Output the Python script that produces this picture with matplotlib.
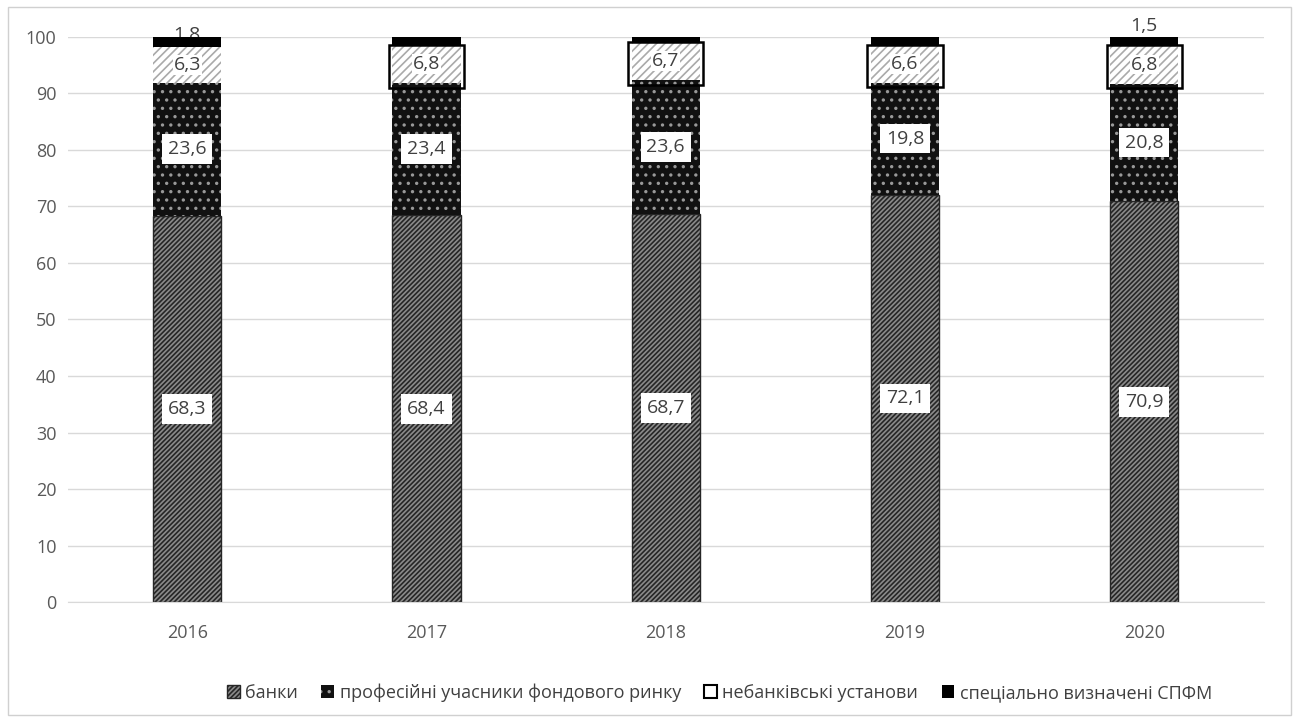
import matplotlib.pyplot as plt
import matplotlib.patches as patches
import numpy as np

plt.rcParams['font.family'] = ['Open Sans', 'DejaVu Sans']
plt.rcParams['hatch.linewidth'] = 1.2

years = ["2016", "2017", "2018", "2019", "2020"]
banks = [68.3, 68.4, 68.7, 72.1, 70.9]
prof = [23.6, 23.4, 23.6, 19.8, 20.8]
nonbank = [6.3, 6.8, 6.7, 6.6, 6.8]
spfm = [1.8, 1.4, 1.0, 1.5, 1.5]
series_names = ["банки", "професійні учасники фондового ринку",
                "небанківські установи", "спеціально визначені СПФМ"]

def fmt(v):
    return ("%g" % v).replace(".", ",")

fig = plt.figure(figsize=(12.99, 7.22), dpi=100)
ax = fig.add_axes([0.052, 0.166, 0.921, 0.783])

x = np.arange(len(years))
w = 0.285
grey = "#595959"
txt = "#404040"

b1 = ax.bar(x, banks, w, color="#8a8a8a", edgecolor="#262626", hatch="///////", lw=1, zorder=2)
b2 = ax.bar(x, prof, w, bottom=banks, color="#111111", edgecolor="#999999", hatch="..", lw=0, zorder=2)
bot3 = np.array(banks) + np.array(prof)
b3 = ax.bar(x, nonbank, w, bottom=bot3, color="white", edgecolor="#aaaaaa", hatch="////", lw=0, zorder=2)
bot4 = bot3 + np.array(nonbank)
b4 = ax.bar(x, spfm, w, bottom=bot4, color="black", edgecolor="black", lw=0, zorder=3)

# outlines around the small non-bank segments (2017-2020)
for i in range(1, len(years)):
    ax.add_patch(patches.Rectangle((x[i] - w / 2 - 0.015, bot3[i] - 0.8), w + 0.03, nonbank[i] + 0.8,
                                   fill=False, edgecolor="black", lw=1.8, zorder=4))

box = dict(boxstyle="square,pad=0.3", fc="white", ec="none")
for i in range(len(years)):
    ax.text(x[i], banks[i] / 2, fmt(banks[i]), ha="center", va="center", fontsize=14, color=txt, bbox=box, zorder=5)
    ax.text(x[i], banks[i] + prof[i] / 2, fmt(prof[i]), ha="center", va="center", fontsize=14, color=txt, bbox=box, zorder=5)
    ax.text(x[i], bot3[i] + nonbank[i] / 2, fmt(nonbank[i]), ha="center", va="center", fontsize=14, color=txt,
            bbox=dict(boxstyle="square,pad=0.05", fc="white", ec="none"), zorder=5)
    if i == 0 or i == len(years) - 1:
        ax.text(x[i], bot4[i] + spfm[i] + 0.3, fmt(spfm[i]), ha="center", va="bottom" if i else "center",
                fontsize=14, color=txt, zorder=2.5 if i == 0 else 5, clip_on=False)

ax.set_xlim(-0.5, len(years) - 0.5)
ax.set_ylim(0, 100)
ax.set_yticks(range(0, 101, 10))
ax.set_xticks(x)
ax.set_xticklabels(years)
ax.tick_params(length=0, labelsize=13, colors=grey, pad=8)
ax.tick_params(axis="x", pad=16)
ax.grid(axis="y", color="#d9d9d9", lw=1, zorder=0)
ax.set_axisbelow(True)
for s in ["top", "right", "left"]:
    ax.spines[s].set_visible(False)
ax.spines["bottom"].set_color("#d9d9d9")

leg = ax.legend([b1, b2, b3, b4], series_names, loc="upper center", bbox_to_anchor=(0.545, -0.115),
                ncol=4, frameon=False, fontsize=13, handlelength=0.7, handleheight=0.7,
                handletextpad=0.3, columnspacing=1.3)
for t in leg.get_texts():
    t.set_color(txt)
leg.legend_handles[2].set_edgecolor("black")
leg.legend_handles[2].set_linewidth(1.5)
leg.legend_handles[2].set_hatch("")

fig.add_artist(patches.Rectangle((0.006, 0.01), 0.988, 0.98, transform=fig.transFigure,
                                 fill=False, edgecolor="#d0d0d0", lw=1))

fig.savefig("out.png", dpi=100)
